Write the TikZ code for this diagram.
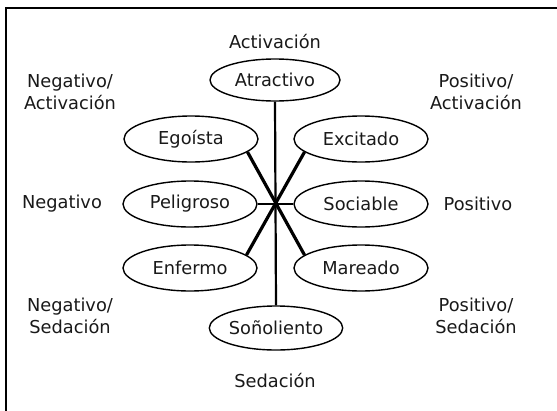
\documentclass[tikz,border=0pt]{standalone}
\usepackage{fontspec}
\setmainfont{DejaVu Sans}
\usetikzlibrary{shapes.geometric}
\begin{document}
\begin{tikzpicture}[x=1pt,y=-1pt,
  every node/.style={font=\fontsize{17.8}{22}\selectfont, text=black!90},
  emo/.style={ellipse, draw, line width=1.4pt, minimum width=134pt, minimum height=46pt, inner sep=0pt},
  lbl/.style={align=center, inner sep=0pt},
  axis/.style={line width=2.2pt},
  diag/.style={line width=3.2pt}]
\useasboundingbox (0,0) rectangle (557,410);
\clip (0,0) rectangle (557,410);
\draw[line width=2.5pt] (6,8) rectangle (640,470);
% emotion ellipses
\node[emo, minimum width=130pt, minimum height=42pt] (atr) at (275,80) {Atractivo};
\node[emo] (ego) at (191,139) {Egoísta};
\node[emo] (exc) at (361,139) {Excitado};
\node[emo] (pel) at (190,204) {Peligroso};
\node[emo] (soc) at (361,204) {Sociable};
\node[emo] (enf) at (190,268) {Enfermo};
\node[emo] (mar) at (361,268) {Mareado};
\node[emo, minimum width=132pt, minimum height=44pt] (son) at (276,328) {Soñoliento};
% dimension labels
\node[lbl] (act) at (275,42) {Activación};
\node[lbl] (sed) at (275,381) {Sedación};
\node[lbl] (neg) at (62,204) {Negativo};
\node[lbl] (pos) at (478,204) {Positivo};
\node[lbl] (na) at (70,92) {Negativo/\\Activación};
\node[lbl] (pa) at (476,92) {Positivo/\\Activación};
\node[lbl] (ns) at (70,316) {Negativo/\\Sedación};
\node[lbl] (ps) at (476,316) {Positivo/\\Sedación};
% connectors
\draw[axis] (atr.south) -- (son.north);
\draw[axis] (pel.east) -- (soc.west);
\draw[diag] (ego.-13) -- (mar.167);
\draw[diag] (exc.193) -- (enf.13);
\end{tikzpicture}
\end{document}
